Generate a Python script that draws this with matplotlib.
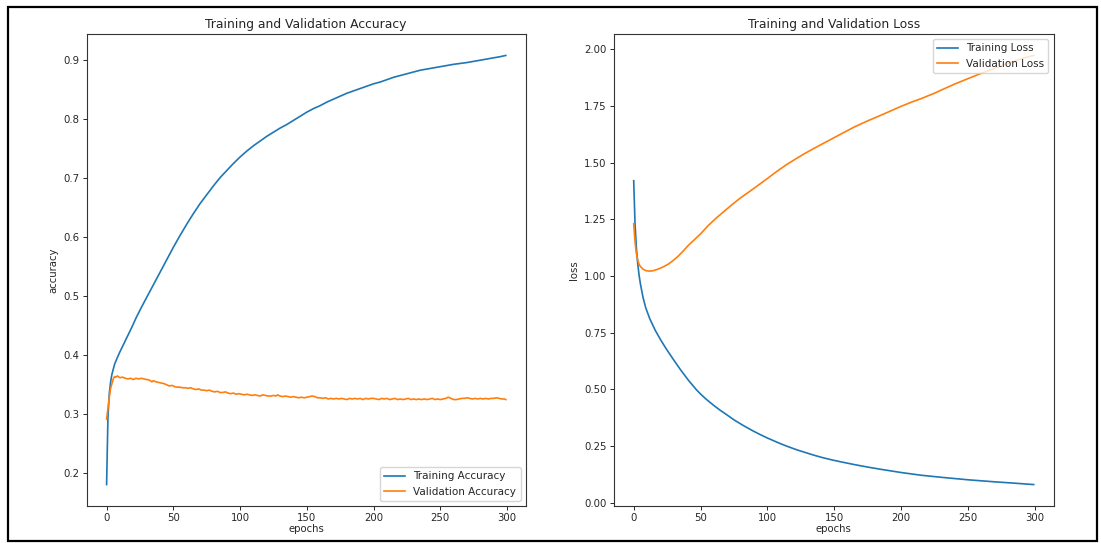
import matplotlib
matplotlib.use("Agg")
import matplotlib.pyplot as plt
from matplotlib.patches import Rectangle

# ---------------- data ----------------
train_acc_epochs = [0, 1, 2, 3, 4, 6, 8, 10, 13, 16, 19, 22, 26, 30, 34, 38, 42, 46, 50,
                    55, 60, 65, 70, 75, 80, 85, 90, 95, 100, 105, 110, 115, 120, 125, 130,
                    135, 140, 145, 150, 155, 160, 165, 170, 175, 180, 185, 190, 195, 200,
                    205, 210, 215, 220, 225, 230, 235, 240, 245, 250, 255, 260, 265, 270,
                    275, 280, 285, 290, 295, 299]
train_acc = [0.181, 0.295, 0.335, 0.355, 0.368, 0.385, 0.396, 0.406, 0.420, 0.434, 0.448,
             0.463, 0.481, 0.498, 0.515, 0.532, 0.549, 0.566, 0.583, 0.603, 0.622, 0.640,
             0.657, 0.672, 0.687, 0.701, 0.713, 0.725, 0.736, 0.746, 0.755, 0.763, 0.771,
             0.778, 0.785, 0.791, 0.798, 0.805, 0.812, 0.818, 0.823, 0.829, 0.834, 0.839,
             0.844, 0.848, 0.852, 0.856, 0.860, 0.863, 0.867, 0.871, 0.874, 0.877, 0.880,
             0.883, 0.885, 0.887, 0.889, 0.891, 0.893, 0.8945, 0.896, 0.898, 0.900, 0.902,
             0.904, 0.906, 0.908]

val_acc_epochs = [0, 1, 2, 3, 4, 5, 6, 7, 8, 10, 12, 14, 16, 18, 20, 22, 24, 26, 28, 30,
                  32, 34, 35, 37, 39, 41, 43, 45, 47, 49, 51, 53, 55, 57, 59, 61, 63, 65,
                  67, 69, 71, 73, 75, 77, 79, 81, 83, 85, 87, 89, 91, 93, 95, 97, 99, 101,
                  103, 105, 107, 109, 111, 113, 115, 117, 119, 121, 123, 125, 127, 128,
                  130, 132, 134, 136, 138, 140, 142, 144, 146, 148, 150, 152, 154, 156,
                  158, 160, 162, 164, 166, 168, 170, 172, 174, 176, 178, 180, 182, 184,
                  186, 188, 190, 192, 194, 196, 198, 200, 202, 204, 206, 208, 210, 212,
                  214, 216, 218, 220, 222, 224, 226, 228, 230, 232, 234, 236, 238, 240,
                  242, 244, 246, 248, 250, 252, 254, 256, 258, 260, 262, 264, 266, 268,
                  270, 272, 274, 276, 278, 280, 282, 284, 286, 288, 290, 292, 294, 296,
                  298, 299]
val_acc = [0.292, 0.310, 0.328, 0.344, 0.352, 0.360, 0.364, 0.363, 0.365, 0.362, 0.363,
           0.361, 0.360, 0.361, 0.359, 0.361, 0.360, 0.361, 0.360, 0.359, 0.358, 0.355,
           0.357, 0.355, 0.354, 0.353, 0.352, 0.350, 0.348, 0.349, 0.347, 0.346, 0.346,
           0.345, 0.345, 0.344, 0.345, 0.343, 0.342, 0.343, 0.341, 0.341, 0.340, 0.341,
           0.339, 0.338, 0.339, 0.337, 0.337, 0.338, 0.336, 0.335, 0.336, 0.334, 0.335,
           0.334, 0.333, 0.334, 0.333, 0.332, 0.333, 0.332, 0.331, 0.333, 0.332, 0.331,
           0.331, 0.332, 0.331, 0.333, 0.331, 0.330, 0.331, 0.330, 0.329, 0.330, 0.329,
           0.328, 0.329, 0.328, 0.329, 0.330, 0.331, 0.330, 0.328, 0.328, 0.327, 0.328,
           0.326, 0.327, 0.326, 0.327, 0.326, 0.327, 0.326, 0.325, 0.327, 0.326, 0.327,
           0.326, 0.327, 0.325, 0.327, 0.326, 0.327, 0.327, 0.326, 0.325, 0.327, 0.326,
           0.327, 0.325, 0.326, 0.327, 0.325, 0.326, 0.325, 0.326, 0.327, 0.325, 0.326,
           0.325, 0.326, 0.325, 0.326, 0.325, 0.326, 0.327, 0.325, 0.326, 0.325, 0.326,
           0.327, 0.329, 0.327, 0.325, 0.325, 0.326, 0.327, 0.327, 0.328, 0.327, 0.326,
           0.327, 0.326, 0.327, 0.326, 0.327, 0.326, 0.327, 0.327, 0.328, 0.327, 0.326,
           0.326, 0.325]

train_loss_epochs = [0, 1, 2, 3, 4, 5, 7, 9, 12, 16, 20, 24, 29, 35, 41, 47, 50, 54, 60,
                     65, 69, 75, 82, 89, 95, 100, 109, 115, 122, 129, 135, 141, 148, 155,
                     165, 175, 185, 200, 215, 230, 250, 270, 285, 299]
train_loss = [1.420, 1.230, 1.125, 1.055, 1.005, 0.966, 0.905, 0.860, 0.812, 0.762, 0.720,
              0.682, 0.638, 0.587, 0.540, 0.498, 0.480, 0.458, 0.429, 0.407, 0.391, 0.366,
              0.341, 0.318, 0.300, 0.286, 0.263, 0.249, 0.234, 0.221, 0.210, 0.200, 0.190,
              0.181, 0.169, 0.158, 0.148, 0.134, 0.122, 0.113, 0.102, 0.093, 0.087, 0.081]

val_loss_epochs = [0, 1, 2, 3, 4, 5, 7, 9, 11, 13, 15, 18, 22, 26, 29, 33, 37, 41, 45, 50,
                   56, 62, 68, 74, 80, 87, 94, 100, 107, 114, 120, 127, 134, 140, 148, 155,
                   165, 175, 183, 190, 200, 208, 215, 225, 232, 240, 250, 258, 265, 275,
                   283, 291, 299]
val_loss = [1.230, 1.150, 1.100, 1.070, 1.052, 1.042, 1.030, 1.024, 1.022, 1.022, 1.024,
            1.030, 1.040, 1.053, 1.066, 1.086, 1.110, 1.136, 1.158, 1.186, 1.224, 1.257,
            1.287, 1.317, 1.345, 1.374, 1.404, 1.430, 1.461, 1.490, 1.512, 1.537, 1.560,
            1.579, 1.604, 1.626, 1.657, 1.684, 1.704, 1.722, 1.748, 1.767, 1.782, 1.806,
            1.825, 1.846, 1.870, 1.889, 1.905, 1.927, 1.944, 1.960, 1.972]

# ---------------- style ----------------
FS_TITLE = 8.9
FS = 7.3
FS_LEG = 7.5
TXT = "#262626"
LW = 1.2
plt.rcParams.update({
    "font.family": "DejaVu Sans",
    "font.size": FS,
    "text.color": TXT,
    "axes.labelcolor": TXT,
    "xtick.color": TXT,
    "ytick.color": TXT,
    "axes.edgecolor": "#333333",
    "axes.linewidth": 0.8,
    "xtick.major.size": 3,
    "ytick.major.size": 3,
    "xtick.major.width": 0.7,
    "ytick.major.width": 0.7,
})

fig = plt.figure(figsize=(11.01, 5.43), dpi=100)
ax1 = fig.add_axes([0.0787, 0.0681, 0.3988, 0.8693])
ax2 = fig.add_axes([0.5574, 0.0681, 0.3996, 0.8693])

ax1.plot(train_acc_epochs, train_acc, color="#1f77b4", lw=LW, label="Training Accuracy")
ax1.plot(val_acc_epochs, val_acc, color="#ff7f0e", lw=LW, label="Validation Accuracy")
ax1.set_title("Training and Validation Accuracy", fontsize=FS_TITLE, pad=4)
ax1.set_xlabel("epochs", fontsize=FS, labelpad=1)
ax1.set_ylabel("accuracy", fontsize=FS, labelpad=4)
ax1.legend(loc="lower right", fontsize=FS_LEG, handlelength=2.0)
ax1.tick_params(labelsize=FS, pad=2)

ax2.plot(train_loss_epochs, train_loss, color="#1f77b4", lw=LW, label="Training Loss")
ax2.plot(val_loss_epochs, val_loss, color="#ff7f0e", lw=LW, label="Validation Loss")
ax2.set_title("Training and Validation Loss", fontsize=FS_TITLE, pad=4)
ax2.set_xlabel("epochs", fontsize=FS, labelpad=1)
ax2.set_ylabel("loss", fontsize=FS, labelpad=4)
ax2.legend(loc="upper right", fontsize=FS_LEG, handlelength=2.0)
ax2.tick_params(labelsize=FS, pad=2)

# black frame around the whole picture
fig.patches.append(Rectangle((8 / 1101, 2 / 543), 1089 / 1101, 534 / 543,
                             transform=fig.transFigure, fill=False,
                             edgecolor="black", linewidth=1.6))

fig.savefig("out.png", dpi=100)
